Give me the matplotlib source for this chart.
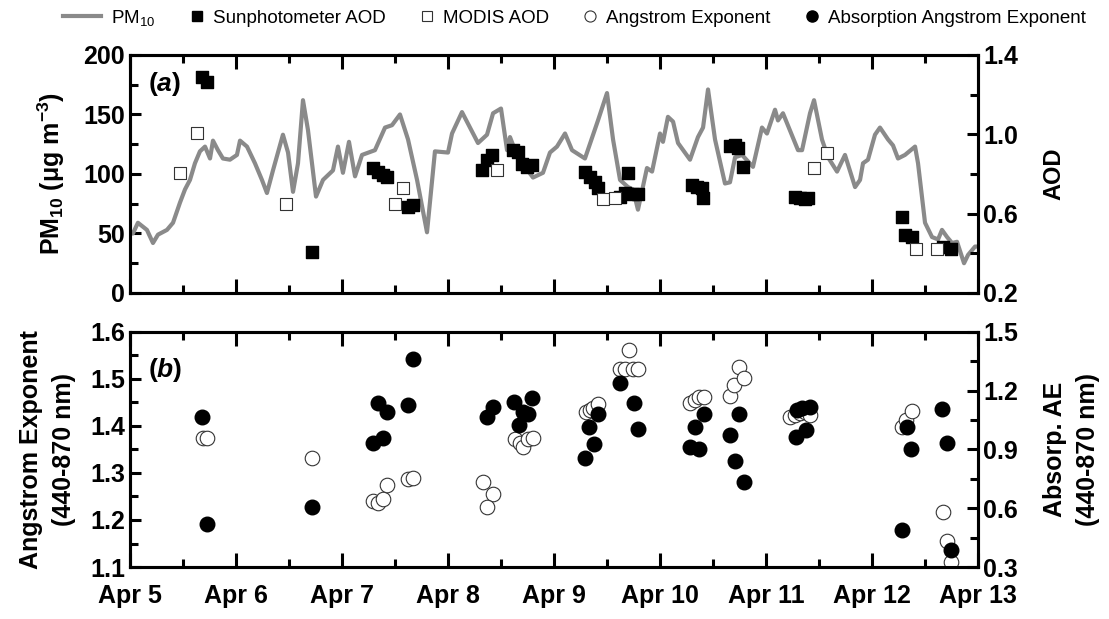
import matplotlib
matplotlib.use("Agg")
import matplotlib.pyplot as plt
from matplotlib.lines import Line2D
from matplotlib.legend_handler import HandlerLine2D
from matplotlib.ticker import MultipleLocator, FixedLocator

plt.rcParams['font.family'] = ['Liberation Sans', 'DejaVu Sans']
plt.rcParams['mathtext.fontset'] = 'custom'
plt.rcParams['mathtext.rm'] = 'Liberation Sans'
plt.rcParams['mathtext.bf'] = 'Liberation Sans:bold'
plt.rcParams['mathtext.it'] = 'Liberation Sans:italic:bold'

DAY_LABELS = ["Apr 5", "Apr 6", "Apr 7", "Apr 8", "Apr 9",
              "Apr 10", "Apr 11", "Apr 12", "Apr 13"]

# days since Apr 5 00:00
pm_t = [0.0, 0.028, 0.075, 0.160, 0.217, 0.264, 0.349, 0.406, 0.472, 0.519,
        0.566, 0.613, 0.660, 0.708, 0.755, 0.783, 0.830, 0.877, 0.943, 1.009,
        1.038, 1.104, 1.179, 1.245, 1.292, 1.349, 1.396, 1.443, 1.491, 1.538,
        1.585, 1.632, 1.679, 1.755, 1.821, 1.915, 1.962, 2.009, 2.066, 2.123,
        2.189, 2.311, 2.406, 2.472, 2.547, 2.623, 2.708, 2.802, 2.877, 3.000,
        3.038, 3.132, 3.208, 3.283, 3.368, 3.425, 3.500, 3.557, 3.585, 3.632,
        3.726, 3.802, 3.896, 3.962, 4.028, 4.104, 4.170, 4.292, 4.415, 4.500,
        4.557, 4.623, 4.698, 4.745, 4.792, 4.877, 4.925, 5.000, 5.028, 5.075,
        5.123, 5.170, 5.283, 5.358, 5.406, 5.453, 5.519, 5.613, 5.660, 5.708,
        5.774, 5.877, 5.962, 6.009, 6.085, 6.113, 6.160, 6.302, 6.340, 6.415,
        6.453, 6.528, 6.585, 6.670, 6.745, 6.840, 6.887, 6.915, 6.962, 7.028,
        7.075, 7.151, 7.198, 7.245, 7.311, 7.406, 7.434, 7.500, 7.566, 7.623,
        7.660, 7.708, 7.755, 7.802, 7.868, 7.906, 7.972, 8.0]
pm10 = [50, 50, 59, 53, 42, 49, 53, 59, 76, 87,
        95, 109, 119, 123, 113, 128, 120, 113, 112, 116,
        128, 123, 109, 95, 84, 103, 118, 133, 118, 85,
        109, 162, 137, 81, 95, 103, 123, 101, 127, 98,
        116, 120, 139, 141, 150, 129, 95, 51, 119, 118,
        134, 152, 139, 126, 133, 151, 155, 120, 131, 120,
        106, 97, 101, 118, 123, 134, 120, 113, 145, 168,
        129, 95, 89, 87, 70, 105, 102, 134, 127, 148,
        144, 126, 112, 131, 139, 171, 129, 92, 93, 114,
        116, 106, 139, 134, 154, 145, 151, 120, 120, 151,
        162, 129, 114, 102, 116, 89, 95, 109, 112, 133,
        139, 129, 124, 113, 116, 123, 109, 59, 47, 45,
        53, 47, 42, 43, 25, 32, 39, 39]

sun_t = [0.679, 0.726, 1.717, 2.292, 2.340, 2.387, 2.425, 2.623, 2.670,
         3.321, 3.368, 3.415, 3.613, 3.660, 3.698, 3.745, 3.792,
         4.292, 4.340, 4.387, 4.415, 4.623, 4.670, 4.698, 4.745, 4.792,
         5.302, 5.349, 5.396, 5.406, 5.660, 5.708, 5.736, 5.783,
         6.274, 6.321, 6.368, 6.396, 7.283, 7.311, 7.377, 7.670, 7.745]
sun_aod = [1.289, 1.264, 0.407, 0.830, 0.810, 0.795, 0.785, 0.634, 0.644,
           0.820, 0.871, 0.896, 0.921, 0.911, 0.850, 0.835, 0.845,
           0.810, 0.785, 0.760, 0.729, 0.684, 0.704, 0.805, 0.699, 0.699,
           0.744, 0.734, 0.729, 0.679, 0.941, 0.946, 0.931, 0.835,
           0.684, 0.679, 0.674, 0.679, 0.583, 0.492, 0.482, 0.432, 0.422]

modis_t = [0.472, 0.632, 1.472, 2.500, 2.575, 3.462, 4.462, 4.575,
           6.453, 6.575, 7.415, 7.613]
modis_aod = [0.805, 1.007, 0.649, 0.649, 0.729, 0.820, 0.674, 0.679,
             0.830, 0.906, 0.422, 0.422]

ae_t = [0.689, 0.726, 1.717, 2.292, 2.340, 2.387, 2.425, 2.623, 2.670,
        3.330, 3.425, 3.368, 3.632, 3.679, 3.708, 3.755, 3.802,
        4.302, 4.340, 4.368, 4.415, 4.623, 4.670, 4.708, 4.745, 4.792,
        5.283, 5.330, 5.368, 5.415, 5.660, 5.698, 5.745, 5.792,
        6.226, 6.274, 6.321, 6.368, 6.415, 7.283, 7.321, 7.377,
        7.670, 7.708, 7.745]
ae = [1.374, 1.374, 1.332, 1.240, 1.236, 1.245, 1.274, 1.287, 1.289,
      1.281, 1.255, 1.228, 1.372, 1.364, 1.355, 1.372, 1.374,
      1.430, 1.434, 1.438, 1.447, 1.521, 1.521, 1.562, 1.521, 1.521,
      1.449, 1.455, 1.462, 1.462, 1.464, 1.487, 1.526, 1.502,
      1.419, 1.423, 1.428, 1.430, 1.423, 1.398, 1.413, 1.432,
      1.217, 1.155, 1.111]

aae_t = [0.679, 0.726, 1.717, 2.292, 2.340, 2.387, 2.425, 2.623, 2.670,
         3.368, 3.425, 3.623, 3.670, 3.708, 3.755, 3.792,
         4.292, 4.330, 4.377, 4.415, 4.623, 4.755, 4.792,
         5.283, 5.330, 5.368, 5.415, 5.660, 5.708, 5.745, 5.792,
         6.283, 6.292, 6.340, 6.377, 6.415, 7.283, 7.330, 7.368,
         7.660, 7.708, 7.745]
aae = [1.066, 0.520, 0.606, 0.933, 1.137, 0.959, 1.092, 1.127, 1.362,
       1.066, 1.117, 1.143, 1.025, 1.092, 1.081, 1.163,
       0.857, 1.015, 0.928, 1.081, 1.240, 1.137, 1.005,
       0.913, 1.015, 0.903, 1.081, 0.974, 0.841, 1.081, 0.734,
       0.964, 1.102, 1.112, 1.000, 1.117, 0.489, 1.015, 0.903,
       1.107, 0.933, 0.387]

AOD_TICKS = [0.2, 0.6, 1.0, 1.4]
AOD_MINOR = [0.4, 0.8, 1.2]
AAE_TICKS = [0.3, 0.6, 0.9, 1.2, 1.5]
AAE_MINOR = [0.45, 0.75, 1.05, 1.35]

LW = 2.2
TICK_FS = 18


class MarkerRight(HandlerLine2D):
    # put the single legend marker next to its label instead of mid-handle
    def get_xdata(self, legend, xdescent, ydescent, width, height, fontsize):
        x = -xdescent + width - 0.3 * fontsize
        return [x, x], [x]


def style_axis(ax, ylim, major, minor, side, fmt="{:.1f}"):
    ax.set_xlim(0, 8)
    ax.set_ylim(*ylim)
    ax.xaxis.set_major_locator(MultipleLocator(1))
    ax.xaxis.set_minor_locator(MultipleLocator(0.5))
    if isinstance(major, list):
        ax.yaxis.set_major_locator(FixedLocator(major))
        ax.yaxis.set_minor_locator(FixedLocator(minor))
    else:
        ax.yaxis.set_major_locator(MultipleLocator(major))
        ax.yaxis.set_minor_locator(MultipleLocator(minor))
    for s in ax.spines.values():
        s.set_linewidth(LW)
    left = side == 'left'
    ax.tick_params(axis='y', which='both', direction='in', width=LW,
                   left=left, right=not left, labelleft=left,
                   labelright=not left, labelsize=TICK_FS)
    ax.tick_params(axis='y', which='major', length=8)
    ax.tick_params(axis='y', which='minor', length=6)
    ax.tick_params(axis='x', which='both', direction='in', width=LW,
                   top=True, bottom=True, labelsize=TICK_FS)
    ax.tick_params(axis='x', which='major', length=10, pad=12)
    ax.tick_params(axis='x', which='minor', length=6)
    ax.yaxis.set_major_formatter(lambda v, pos: fmt.format(v))
    for lab in ax.get_yticklabels():
        lab.set_fontweight('bold')


fig = plt.figure(figsize=(11.09, 6.19), dpi=100)
ax1 = fig.add_axes([0.1172, 0.5267, 0.7647, 0.3845])
ax1r = ax1.twinx()
ax2 = fig.add_axes([0.1172, 0.0840, 0.7647, 0.3797])
ax2r = ax2.twinx()

# (a) PM10 and AOD
ax1.plot(pm_t, pm10, color='#8a8a8a', lw=3.0, zorder=2)
ax1r.scatter(sun_t, sun_aod, marker='s', s=75, color='black', zorder=3)
ax1r.scatter(modis_t, modis_aod, marker='s', s=75, facecolor='white',
             edgecolor='#333333', linewidths=0.8, zorder=3)
style_axis(ax1, (0, 200), 50, 25, 'left', fmt="{:.0f}")
style_axis(ax1r, (0.2, 1.4), AOD_TICKS, AOD_MINOR, 'right')
ax1.set_xticklabels([])
ax1.set_ylabel(r"PM$_{\mathbf{10}}$ (μg m$^{\mathbf{-3}}$)",
               fontsize=18, fontweight='bold', labelpad=12)
ax1r.set_ylabel("AOD", fontsize=17, fontweight='bold', labelpad=18)
ax1.text(0.021, 0.88, "($a$)", transform=ax1.transAxes, fontsize=19,
         fontweight='bold', va='center')

# (b) Angstrom exponents
ax2.scatter(ae_t, ae, marker='o', s=110, facecolor='white',
            edgecolor='#333333', linewidths=0.8, zorder=3)
ax2r.scatter(aae_t, aae, marker='o', s=110, color='black', zorder=4)
style_axis(ax2, (1.1, 1.6), 0.1, 0.05, 'left')
style_axis(ax2r, (0.3, 1.5), AAE_TICKS, AAE_MINOR, 'right')
ax2.set_xticks(range(len(DAY_LABELS)))
ax2.set_xticklabels(DAY_LABELS, fontweight='bold')
ax2.set_ylabel("Angstrom Exponent\n(440-870 nm)", fontsize=18,
               fontweight='bold', labelpad=10, linespacing=1.5)
ax2r.set_ylabel("Absorp. AE\n(440-870 nm)", fontsize=18,
                fontweight='bold', labelpad=18, linespacing=1.5)
ax2.text(0.021, 0.84, "($b$)", transform=ax2.transAxes, fontsize=19,
         fontweight='bold', va='center')

pm_handle = Line2D([], [], color='#8a8a8a', lw=3.0)
marker_handles = [
    Line2D([], [], ls='none', marker='s', ms=7, color='black'),
    Line2D([], [], ls='none', marker='s', ms=7, mfc='white', mec='#333333', mew=0.8),
    Line2D([], [], ls='none', marker='o', ms=8, mfc='white', mec='#333333', mew=0.8),
    Line2D([], [], ls='none', marker='o', ms=8, color='black'),
]
labels = ["PM$_{10}$", "Sunphotometer AOD", "MODIS AOD",
          "Angstrom Exponent", "Absorption Angstrom Exponent"]
fig.legend([pm_handle] + marker_handles, labels, loc='center',
           bbox_to_anchor=(0.518, 0.971), ncol=5, frameon=False,
           fontsize=13.5, handlelength=2.0, handletextpad=0.55,
           columnspacing=0.5,
           handler_map={h: MarkerRight() for h in marker_handles})

fig.savefig("out.png", dpi=100)
